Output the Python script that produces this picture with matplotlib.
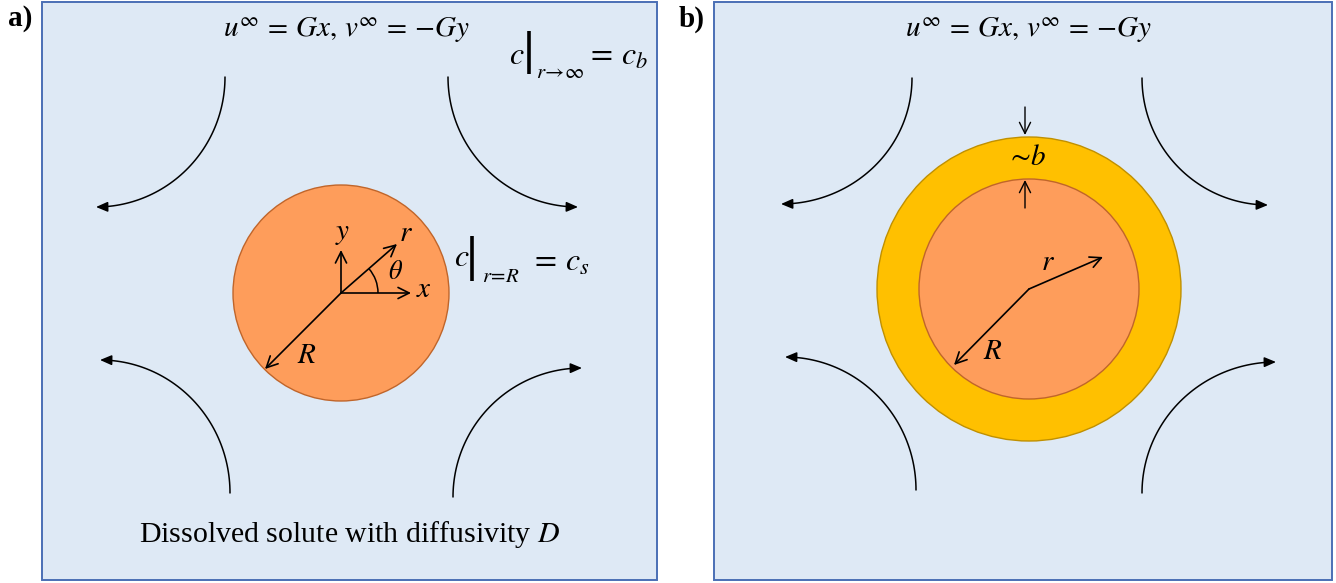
import numpy as np
import matplotlib.pyplot as plt
from matplotlib.patches import Rectangle, Circle, FancyArrowPatch, Arc
from matplotlib.path import Path

plt.rcParams['mathtext.fontset'] = 'stix'

# geometry in pixel units (y grows downward)
panel_boxes = [(42, 2, 615, 578), (714, 2, 618, 578)]
panel_tags = ["a)", "b)"]
tag_pos = [(20, 19), (692, 19)]

core_a = (341, 293, 108)
core_b = (1029, 289, 110)
shell_b = (1029, 289, 152)

# flow arcs: (start x, start y, end x, end y), end carries the arrow head
flow_a = [(225, 77, 96, 207), (448, 77, 578, 207),
          (230, 493, 100, 360), (453, 497, 582, 368)]
flow_b = [(912, 78, 781, 204), (1142, 78, 1268, 205),
          (916, 490, 785, 357), (1142, 493, 1276, 362)]

far_field = r"$u^{\infty}\, =\, Gx,\, v^{\infty}\, =\, {-}Gy$"

box_face = "#DEE9F5"
box_edge = "#4A6FB5"
core_face = "#FE9D5B"
core_edge = "#C0652A"
shell_face = "#FFC000"
shell_edge = "#C09000"

fig = plt.figure(figsize=(13.36, 5.83), dpi=100)
ax = fig.add_axes([0, 0, 1, 1])
ax.set_xlim(0, 1336)
ax.set_ylim(583, 0)
ax.axis("off")


def flow_arc(x0, y0, x1, y1):
    # quarter ellipse: vertical tangent at start, horizontal at end
    cx, cy = x1, y0
    t = np.linspace(0, np.pi / 2, 60)
    xs = cx + (x0 - cx) * np.cos(t)
    ys = cy + (y1 - cy) * np.sin(t)
    verts = list(zip(xs, ys))
    codes = [Path.MOVETO] + [Path.LINETO] * (len(verts) - 1)
    p = FancyArrowPatch(path=Path(verts, codes),
                        arrowstyle="-|>,head_length=7,head_width=3",
                        mutation_scale=1, lw=1.1, color="black")
    ax.add_patch(p)


def arrow(x0, y0, x1, y1, lw=1.2):
    ax.add_patch(FancyArrowPatch((x0, y0), (x1, y1),
                                 arrowstyle="->,head_length=8,head_width=4",
                                 mutation_scale=1, lw=lw, color="black",
                                 shrinkA=0, shrinkB=0))


for (x, y, w, h), tag, (tx, ty) in zip(panel_boxes, panel_tags, tag_pos):
    ax.add_patch(Rectangle((x, y), w, h, facecolor=box_face,
                           edgecolor=box_edge, lw=1.4))
    ax.text(tx, ty, tag, fontsize=21, fontweight="bold",
            family="Liberation Serif", ha="center", va="center")

for seg in flow_a + flow_b:
    flow_arc(*seg)

# panel a
cx, cy, r = core_a
ax.add_patch(Circle((cx, cy), r, facecolor=core_face, edgecolor=core_edge, lw=1))
arrow(cx, cy, cx, 250)
arrow(cx, cy, 411, cy)
arrow(cx, cy, 397, 244)
arrow(cx, cy, 265, 369)
ax.add_patch(Arc((cx, cy), 74, 74, theta1=-41, theta2=0, lw=1.1, color="black"))

ax.text(343, 233, r"$y$", fontsize=21, ha="center", va="center")
ax.text(406, 233, r"$r$", fontsize=21, ha="center", va="center")
ax.text(396, 272, r"$\theta$", fontsize=19, ha="center", va="center")
ax.text(424, 289, r"$x$", fontsize=21, ha="center", va="center")
ax.text(307, 355, r"$R$", fontsize=21, ha="center", va="center")

ax.text(346, 30, far_field, fontsize=21, ha="center", va="center")
ax.text(350, 534, "Dissolved solute with diffusivity $D$", fontsize=21.5,
        family="Liberation Serif", ha="center", va="center")

# boundary conditions
ax.text(517, 55, r"$c$", fontsize=23, ha="center", va="center")
ax.plot([529, 529], [31, 74], color="black", lw=2.6, solid_capstyle="butt")
ax.text(560, 72, r"$r\!\rightarrow\!\infty$", fontsize=15, ha="center", va="center")
ax.text(586, 56, r"$=\, c_b$", fontsize=23, ha="left", va="center")

ax.text(462, 258, r"$c$", fontsize=23, ha="center", va="center")
ax.plot([472, 472], [236, 281], color="black", lw=2.6, solid_capstyle="butt")
ax.text(501, 276, r"$r\!=\!R$", fontsize=15, ha="center", va="center")
ax.text(530, 262, r"$=\, c_s$", fontsize=23, ha="left", va="center")

# panel b
sx, sy, sr = shell_b
ax.add_patch(Circle((sx, sy), sr, facecolor=shell_face, edgecolor=shell_edge, lw=1))
cx, cy, r = core_b
ax.add_patch(Circle((cx, cy), r, facecolor=core_face, edgecolor=core_edge, lw=1))
arrow(cx, cy, 1103, 257)
arrow(cx, cy, 954, 365)
arrow(1025, 107, 1025, 135, lw=1.0)
arrow(1025, 208, 1025, 180, lw=1.0)

ax.text(1026, 157, r"$\sim\! b$", fontsize=21, ha="center", va="center")
ax.text(1048, 262, r"$r$", fontsize=21, ha="center", va="center")
ax.text(993, 351, r"$R$", fontsize=21, ha="center", va="center")
ax.text(1028, 30, far_field, fontsize=21, ha="center", va="center")

fig.savefig("out.png", dpi=100)
